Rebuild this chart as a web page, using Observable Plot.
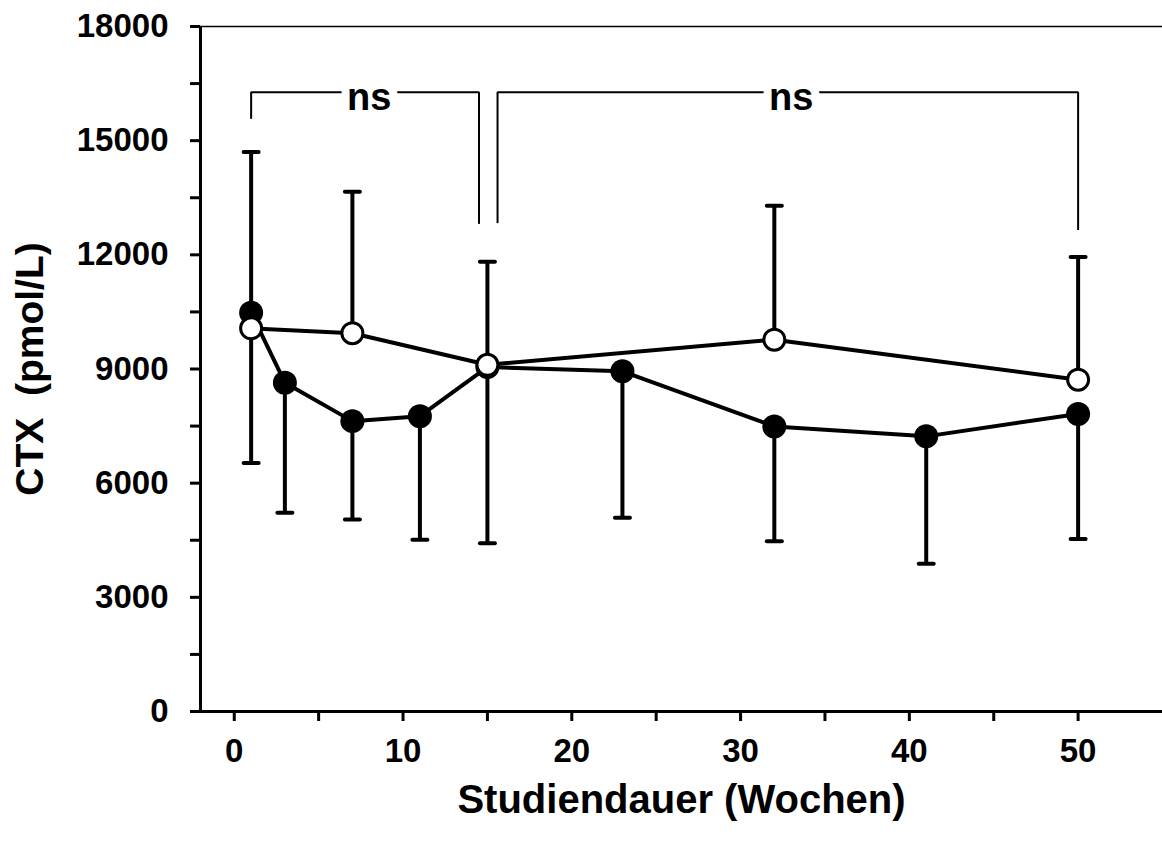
<!DOCTYPE html>
<html>
<head>
<meta charset="utf-8">
<script src="https://cdn.jsdelivr.net/npm/d3@7"></script>
<script src="https://cdn.jsdelivr.net/npm/@observablehq/plot@0.6"></script>
<style>
  html, body { margin: 0; padding: 0; background: #fff; }
  #chart svg { display: block; }
</style>
</head>
<body>
<div id="chart"></div>
<script>
// Filled circles (group 1): mean and lower error bar
const weeksFilled = [1, 3, 7, 11, 15, 23, 32, 41, 50];
const ctxFilled   = [10480, 8640, 7630, 7760, 9050, 8940, 7490, 7230, 7820];
const lowerFilled = [6530, 5220, 5045, 4510, 4420, 5090, 4475, 3880, 4530];

// Open circles (group 2): mean and upper error bar
const weeksOpen = [1, 7, 15, 32, 50];
const ctxOpen   = [10070, 9940, 9110, 9770, 8720];
const upperOpen = [14700, 13660, 11820, 13290, 11940];

// Axis ticks
const yTicks = [0, 3000, 6000, 9000, 12000, 15000, 18000];
const yMinorTicks = [1500, 4500, 7500, 10500, 13500, 16500];
const xTicks = [0, 10, 20, 30, 40, 50];
const xMinorTicks = [5, 15, 25, 35, 45];

// Significance brackets
const bracketLabels = ["ns", "ns"];
const bracketStart = [1, 15.6];
const bracketEnd = [14.5, 50];
const bracketLevel = [16270, 16270];
const bracketStartDrop = [15560, 12820];
const bracketEndDrop = [12800, 12640];
const bracketLabelX = [8, 33];

const filled = weeksFilled.map((w, i) => ({week: w, ctx: ctxFilled[i], low: lowerFilled[i]}));
const open = weeksOpen.map((w, i) => ({week: w, ctx: ctxOpen[i], high: upperOpen[i]}));
const brackets = bracketLabels.map((t, i) => ({
  label: t, x1: bracketStart[i], x2: bracketEnd[i], y: bracketLevel[i],
  y1: bracketStartDrop[i], y2: bracketEndDrop[i], lx: bracketLabelX[i]
}));

const cap = {draw(ctx) { ctx.moveTo(-7.5, 0); ctx.lineTo(7.5, 0); }};

const chart = Plot.plot({
  width: 1162,
  height: 844,
  marginLeft: 200,
  marginRight: 0,
  marginTop: 26,
  marginBottom: 133,
  style: {fontFamily: "'Liberation Sans', Arial, sans-serif", fontWeight: "bold", color: "#000", background: "#fff"},
  x: {domain: [-2, 55]},
  y: {domain: [0, 18000]},
  marks: [
    // axes
    Plot.axisY(yTicks, {tickSize: 10, tickPadding: 22, fontSize: 33, fontWeight: "bold", strokeWidth: 3, label: null, tickFormat: d => String(d)}),
    Plot.axisY(yMinorTicks, {tickSize: 10, strokeWidth: 3, label: null, tickFormat: () => ""}),
    Plot.axisX(xTicks, {tickSize: 10, tickPadding: 17, fontSize: 33, fontWeight: "bold", strokeWidth: 3, label: null, tickFormat: d => String(d)}),
    Plot.axisX(xMinorTicks, {tickSize: 10, strokeWidth: 3, label: null, tickFormat: () => ""}),
    Plot.ruleX([-2], {strokeWidth: 3}),
    Plot.ruleY([0], {strokeWidth: 3}),
    Plot.ruleY([18000], {strokeWidth: 1.5}),
    // brackets
    Plot.link(brackets, {x1: "x1", x2: "x2", y1: "y", y2: "y", strokeWidth: 2, stroke: "#000"}),
    Plot.ruleX(brackets, {x: "x1", y1: "y1", y2: "y", strokeWidth: 2}),
    Plot.ruleX(brackets, {x: "x2", y1: "y2", y2: "y", strokeWidth: 2}),
    Plot.text(brackets, {x: "lx", y: "y", text: "label", fontSize: 38, fontWeight: "bold", lineAnchor: "bottom", dy: 18, fill: "#000", stroke: "#fff", strokeWidth: 16}),
    // error bars
    Plot.ruleX(filled, {x: "week", y1: "ctx", y2: "low", strokeWidth: 4}),
    Plot.dot(filled, {x: "week", y: "low", symbol: cap, stroke: "#000", strokeWidth: 4, strokeLinecap: "round"}),
    Plot.ruleX(open, {x: "week", y1: "ctx", y2: "high", strokeWidth: 4}),
    Plot.dot(open, {x: "week", y: "high", symbol: cap, stroke: "#000", strokeWidth: 4, strokeLinecap: "round"}),
    // lines
    Plot.line(filled, {x: "week", y: "ctx", strokeWidth: 4, stroke: "#000"}),
    Plot.line(open, {x: "week", y: "ctx", strokeWidth: 4, stroke: "#000"}),
    // markers
    Plot.dot(filled, {x: "week", y: "ctx", r: 12, fill: "#000", stroke: "none"}),
    Plot.dot(open, {x: "week", y: "ctx", r: 10.5, fill: "#fff", stroke: "#000", strokeWidth: 3}),
    // axis titles
    Plot.text(["Studiendauer (Wochen)"], {frameAnchor: "bottom", textAnchor: "middle", lineAnchor: "middle", dy: 89, fontSize: 40, fontWeight: "bold", fill: "#000"}),
    Plot.text(["CTX\u00A0 (pmol/L)"], {frameAnchor: "left", textAnchor: "middle", lineAnchor: "middle", dx: -170, rotate: -90, fontSize: 39, fontWeight: "bold", fill: "#000"})
  ]
});
document.getElementById("chart").appendChild(chart);
</script>
</body>
</html>
